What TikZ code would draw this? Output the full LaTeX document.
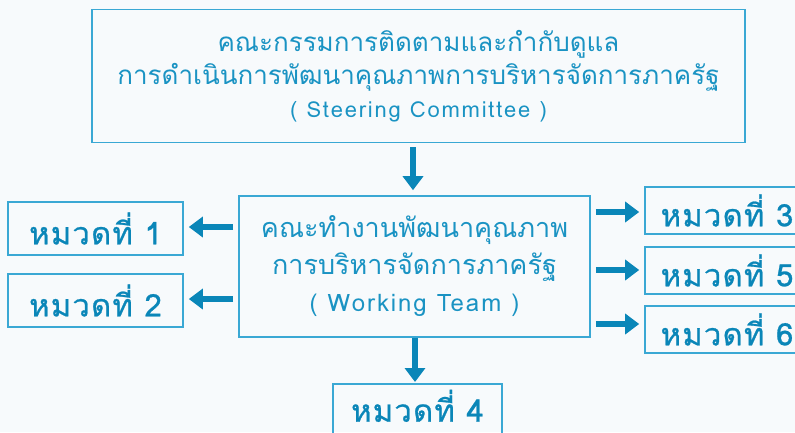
\documentclass[tikz,border=0pt]{standalone}
\usepackage{fontspec}
\newfontfamily\thaifont[Script=Thai]{Loma}
\newfontfamily\catfont[Script=Thai,FakeBold=0.8,LetterSpace=4]{Loma}
\newfontfamily\latfont[LetterSpace=8]{Loma}
\usetikzlibrary{arrows.meta}
\definecolor{bordc}{HTML}{3AA8D4}
\definecolor{txtc}{HTML}{1A93C3}
\definecolor{arrc}{HTML}{0A86B8}
\definecolor{bgc}{HTML}{F7FAFC}
\begin{document}
\begin{tikzpicture}[x=1pt,y=-1pt,
  box/.style={draw=bordc,line width=1.6pt,rectangle,inner sep=0pt},
  ttl/.style={text=txtc,font=\thaifont\fontsize{26}{33}\selectfont,align=center},
  wtl/.style={text=txtc,font=\thaifont\fontsize{27}{37}\selectfont,align=center},
  cat/.style={box,text=arrc,font=\catfont\fontsize{31}{36}\selectfont},
  arr/.style={draw=arrc,line width=6.5pt,-{Triangle[length=14pt,width=20pt]}}]
\clip (0,0) rectangle (795,432);
\fill[bgc] (0,0) rectangle (795,432);
% top box
\node[box,ttl,minimum width=653pt,minimum height=133pt] (sc) at (418.5,76)
  {คณะกรรมการติดตามและกำกับดูแล\\การดำเนินการพัฒนาคุณภาพการบริหารจัดการภาครัฐ\\{\latfont\fontsize{22}{33}\selectfont ( Steering Committee )}};
% working team
\node[box,wtl,minimum width=351pt,minimum height=141pt] (wt) at (414.5,266.5)
  {คณะทำงานพัฒนาคุณภาพ\\การบริหารจัดการภาครัฐ\\{\latfont\fontsize{24}{37}\selectfont ( Working Team )}};
% categories
\node[cat,minimum width=175pt,minimum height=53pt] (c1) at (95.5,228.5) {หมวดที่ 1};
\node[cat,minimum width=175pt,minimum height=53pt] (c2) at (95.5,300.5) {หมวดที่ 2};
\node[cat,minimum width=164pt,minimum height=47pt] (c3) at (727,210.5) {หมวดที่ 3};
\node[cat,minimum width=164pt,minimum height=47pt] (c5) at (727,270.5) {หมวดที่ 5};
\node[cat,minimum width=164pt,minimum height=47pt] (c6) at (727,329.5) {หมวดที่ 6};
\node[cat,minimum width=169pt,minimum height=60pt,text depth=16pt,anchor=north] (c4) at (417.5,383) {หมวดที่ 4};
% arrows
\draw[arr,shorten <=4pt,shorten >=5pt] (sc.south -| 413,0) -- (wt.north -| 413,0);
\draw[arr,shorten >=1pt] (wt.south -| 415,0) -- (c4.north -| 415,0);
\draw[arr,shorten <=5pt,shorten >=5pt] (wt.west |- 0,227) -- (c1.east |- 0,227);
\draw[arr,shorten <=5pt,shorten >=5pt] (wt.west |- 0,299) -- (c2.east |- 0,299);
\draw[arr,shorten <=5pt,shorten >=5pt] (wt.east |- 0,212) -- (c3.west |- 0,212);
\draw[arr,shorten <=5pt,shorten >=5pt] (wt.east |- 0,270) -- (c5.west |- 0,270);
\draw[arr,shorten <=5pt,shorten >=5pt] (wt.east |- 0,324) -- (c6.west |- 0,324);
\end{tikzpicture}
\end{document}
